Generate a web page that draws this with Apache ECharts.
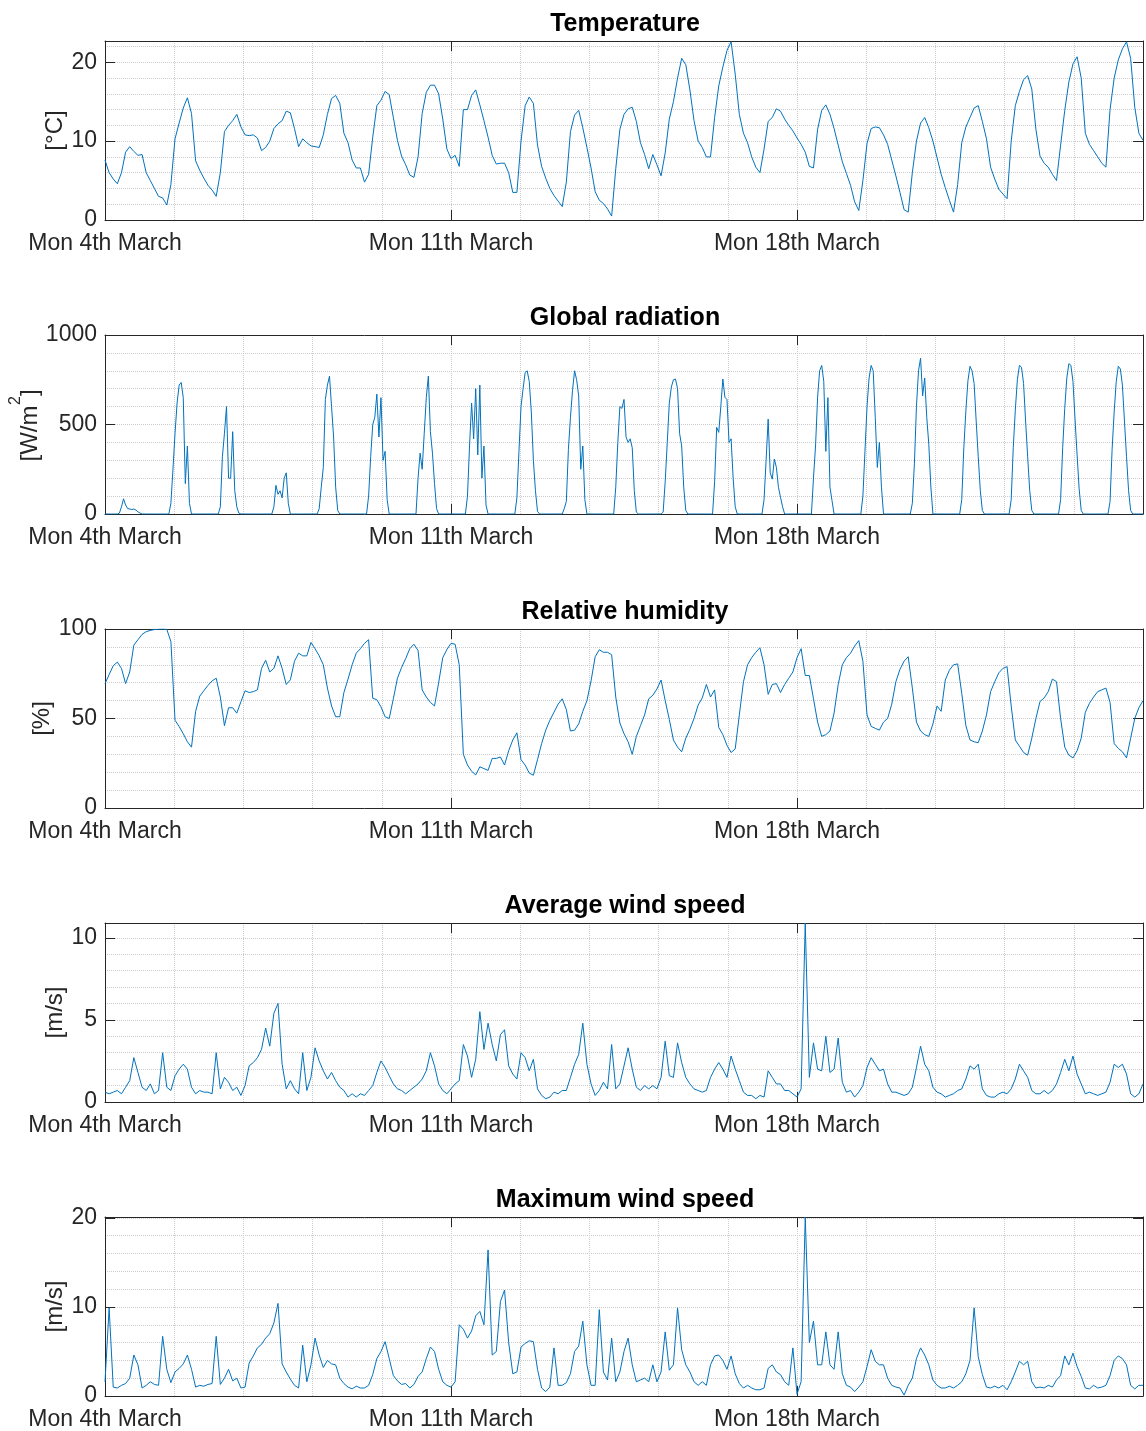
<!DOCTYPE html>
<html>
<head>
<meta charset="utf-8">
<title>Weather station, March</title>
<script src="https://cdn.jsdelivr.net/npm/echarts@6/dist/echarts.min.js"></script>
<style>
  html, body { margin: 0; padding: 0; background: #fff; }
  #main { width: 1146px; height: 1431px; }
  #err { position: absolute; left: 10px; top: 10px; font: 14px monospace; color: #c00; white-space: pre-wrap; width: 1100px; }
</style>
</head>
<body>
<div id="main"></div>
<div id="err"></div>
<script>
// x values are hours since Mon 4th March 00:00
var weekLabels = ['Mon 4th March', 'Mon 11th March', 'Mon 18th March'];
var weekHours = 168;
var titles = ['Temperature', 'Global radiation', 'Relative humidity', 'Average wind speed', 'Maximum wind speed'];
var units = ['[°C]', null, '[%]', '[m/s]', '[m/s]'];   // radiation unit has a superscript, built below
var stepHours = [2, 1, 2, 2, 2];
var yMax = [22.7, 1000, 100, 10.9, 20.1];
var yInterval = [10, 500, 50, 5, 10];

// temperature [°C], one value every 2 h (12 per day)
var temperature = [
  7.6, 6.0, 5.2, 4.6, 6.0, 8.6, 9.3, 8.7, 8.2, 8.3, 6.0, 5.0,
  4.0, 3.0, 2.8, 1.9, 4.5, 10.3, 12.3, 14.2, 15.5, 13.5, 7.5, 6.3,
  5.3, 4.4, 3.8, 3.0, 6.0, 11.2, 12.0, 12.6, 13.4, 11.8, 10.8, 10.7,
  10.8, 10.4, 8.8, 9.2, 10.0, 11.6, 12.2, 12.6, 13.8, 13.6, 11.6, 9.3,
  10.3, 9.8, 9.4, 9.3, 9.2, 10.8, 13.4, 15.4, 15.8, 14.8, 11.0, 9.8,
  7.6, 6.6, 6.6, 4.8, 5.8, 10.5, 14.5, 15.2, 16.3, 15.9, 13.0, 10.1,
  8.1, 7.0, 5.7, 5.4, 8.0, 13.5, 16.2, 17.1, 17.1, 16.0, 12.8, 9.0,
  7.8, 8.2, 6.8, 14.0, 14.0, 15.8, 16.5, 14.6, 12.6, 10.5, 8.2, 7.1,
  7.2, 7.2, 6.0, 3.5, 3.5, 10.0, 14.5, 15.6, 14.8, 9.5, 6.8, 5.3,
  4.0, 3.1, 2.4, 1.7, 4.8, 11.2, 13.3, 13.9, 11.7, 9.2, 6.6, 3.6,
  2.5, 2.1, 1.4, 0.5, 6.5, 11.5, 13.4, 14.1, 14.3, 12.5, 9.8, 8.3,
  6.5, 8.3, 7.0, 5.6, 8.5, 12.8, 15.0, 18.0, 20.5, 19.7, 16.5, 12.6,
  10.0, 9.2, 8.0, 8.0, 13.0, 17.0, 19.4, 21.5, 22.6, 18.5, 13.4, 11.0,
  9.8, 8.0, 6.7, 6.0, 9.0, 12.5, 13.0, 14.1, 13.8, 12.8, 12.0, 11.3,
  10.4, 9.6, 8.6, 6.8, 6.6, 11.5, 13.9, 14.6, 13.4, 11.6, 9.5, 7.4,
  5.9, 4.4, 2.3, 1.2, 5.0, 9.7, 11.6, 11.8, 11.7, 10.8, 9.6, 7.6,
  5.6, 3.5, 1.3, 1.0, 6.0, 10.0, 12.3, 13.0, 11.7, 10.0, 7.9, 5.8,
  4.1, 2.5, 1.0, 4.5, 9.8, 11.8, 13.0, 14.2, 14.5, 12.5, 10.3, 6.7,
  5.2, 3.9, 3.3, 2.7, 10.0, 14.5, 16.3, 17.8, 18.3, 16.6, 11.5, 8.1,
  7.2, 6.7, 5.8, 5.0, 9.5, 13.9, 17.5, 19.8, 20.7, 18.0, 11.0, 9.6,
  8.8, 8.0, 7.2, 6.7, 14.0, 18.0, 20.3, 21.7, 22.6, 20.5, 14.3, 11.0,
  10.1
];

// global radiation [W/m2], one value every hour (24 per day)
var radiation = [
  0, 0, 0, 0, 0, 0, 0, 5, 40, 85, 50, 30, 28, 25, 28, 22, 12, 5, 0, 0, 0, 0, 0, 0,
  0, 0, 0, 0, 0, 0, 0, 0, 60, 250, 450, 620, 720, 735, 650, 170, 380, 60, 0, 0, 0, 0, 0, 0,
  0, 0, 0, 0, 0, 0, 0, 0, 40, 320, 450, 600, 200, 200, 460, 130, 40, 5, 0, 0, 0, 0, 0, 0,
  0, 0, 0, 0, 0, 0, 0, 0, 0, 0, 40, 160, 110, 130, 90, 200, 230, 60, 0, 0, 0, 0, 0, 0,
  0, 0, 0, 0, 0, 0, 0, 0, 30, 150, 260, 640, 720, 770, 600, 430, 150, 20, 0, 0, 0, 0, 0, 0,
  0, 0, 0, 0, 0, 0, 0, 0, 100, 320, 500, 540, 670, 430, 650, 300, 350, 80, 0, 0, 0, 0, 0, 0,
  0, 0, 0, 0, 0, 0, 0, 0, 200, 340, 250, 450, 650, 770, 460, 340, 170, 30, 0, 0, 0, 0, 0, 0,
  0, 0, 0, 0, 0, 0, 0, 0, 100, 380, 620, 420, 700, 330, 720, 200, 380, 50, 0, 0, 0, 0, 0, 0,
  0, 0, 0, 0, 0, 0, 0, 0, 90, 350, 600, 700, 790, 800, 740, 570, 300, 130, 15, 0, 0, 0, 0, 0,
  0, 0, 0, 0, 0, 0, 0, 30, 70, 360, 540, 690, 800, 750, 660, 250, 380, 80, 0, 0, 0, 0, 0, 0,
  0, 0, 0, 0, 0, 0, 0, 0, 150, 400, 600, 590, 640, 430, 400, 420, 370, 130, 10, 0, 0, 0, 0, 0,
  0, 0, 0, 0, 0, 0, 0, 10, 180, 400, 620, 710, 750, 754, 700, 450, 380, 150, 20, 0, 0, 0, 0, 0,
  0, 0, 0, 0, 0, 0, 0, 0, 180, 484, 456, 600, 754, 652, 640, 400, 420, 200, 40, 0, 0, 0, 0, 0,
  0, 0, 0, 0, 0, 0, 0, 0, 80, 300, 530, 230, 195, 307, 260, 149, 93, 40, 0, 0, 0, 0, 0, 0,
  0, 0, 0, 0, 0, 0, 0, 0, 200, 380, 652, 800, 830, 740, 350, 650, 150, 75, 0, 0, 0, 0, 0, 0,
  0, 0, 0, 0, 0, 0, 0, 0, 100, 350, 600, 760, 830, 800, 540, 260, 400, 150, 0, 0, 0, 0, 0, 0,
  0, 0, 0, 0, 0, 0, 0, 0, 60, 280, 600, 800, 870, 660, 760, 540, 390, 150, 0, 0, 0, 0, 0, 0,
  0, 0, 0, 0, 0, 0, 0, 0, 80, 370, 577, 745, 825, 800, 730, 520, 320, 130, 20, 0, 0, 0, 0, 0,
  0, 0, 0, 0, 0, 0, 0, 0, 80, 370, 580, 750, 830, 820, 730, 520, 320, 130, 20, 0, 0, 0, 0, 0,
  0, 0, 0, 0, 0, 0, 0, 0, 80, 370, 590, 760, 840, 830, 740, 530, 330, 140, 20, 0, 0, 0, 0, 0,
  0, 0, 0, 0, 0, 0, 0, 0, 70, 360, 570, 740, 825, 810, 720, 520, 320, 130, 20, 0, 0, 0, 0, 0,
  0
];

// relative humidity [%], every 2 h
var humidity = [
  69.5, 74.5, 79.5, 81.5, 78, 69.5, 76, 91, 94, 97, 98.5, 99.2,
  99.7, 99.9, 100, 99.8, 93, 49, 45.5, 41.5, 37, 34, 54, 62.5,
  65.5, 68.5, 71, 72.5, 62, 46, 56, 56, 53, 59.4, 65.5, 64.5,
  65, 66, 78, 82.5, 76, 78, 85, 78, 69, 71.6, 82, 86.5,
  85, 85, 92.5, 89, 85, 80, 67, 57, 51, 51, 64.5, 72,
  80, 86.5, 89, 92, 94, 61.3, 60.5, 56.5, 51, 50, 61, 72.5,
  78.5, 83.5, 89, 91.5, 88, 66, 62, 59, 57, 70, 84, 88.5,
  92, 91.5, 80, 30, 24, 20.5, 18.5, 23, 22, 21, 27.7, 27.7,
  28.5, 24, 32, 38, 42, 27, 24, 19.5, 18.3, 27, 36, 43.5,
  49, 53.5, 58, 61, 55, 43, 43.5, 47, 54, 60, 71, 84.5,
  88.4, 87, 87, 85.6, 62, 47.5, 41.5, 37, 30, 40, 46, 52,
  61, 63, 66.5, 71.5, 60, 49.5, 38, 34, 31.4, 39, 44, 50,
  57.5, 61.5, 69, 62, 66, 45, 41, 35, 31, 33, 52, 70.5,
  80, 84, 87, 89.5, 80, 63.5, 69, 69.5, 64.5, 69, 72.5, 76,
  84, 89, 74, 74, 61, 48, 40, 41, 43, 53, 69, 80,
  84, 86.5, 90.5, 93.5, 82, 52, 45.6, 44.5, 43.5, 48, 50, 58,
  70.5, 77.5, 82, 84.5, 67, 48, 43, 41, 40, 47, 57, 54,
  71.5, 77, 80, 80.5, 64, 46, 38, 37, 36.5, 43, 52, 65,
  70.5, 75.5, 78, 79, 57, 38, 34.5, 31, 29.5, 39, 50, 59.5,
  61.5, 65, 72, 70.6, 50, 34, 29.5, 28, 32, 39, 53.5, 58.5,
  62, 65, 66, 67, 59, 36, 33.3, 31.4, 28, 39, 50, 56,
  60
];

// average wind speed [m/s], every 2 h
var windAvg = [
  0.6, 0.5, 0.6, 0.7, 0.5, 0.9, 1.3, 2.7, 1.8, 0.9, 0.7, 1.1,
  0.5, 0.7, 3.0, 0.9, 0.7, 1.6, 2.0, 2.3, 2.0, 0.9, 0.5, 0.7,
  0.6, 0.6, 0.5, 3.0, 0.8, 1.5, 1.2, 0.7, 0.9, 0.4, 1.0, 2.2,
  2.4, 2.7, 3.2, 4.5, 3.4, 5.4, 6.0, 2.3, 0.8, 1.3, 0.8, 0.5,
  3.0, 0.7, 1.5, 3.3, 2.5, 1.9, 1.4, 1.8, 1.3, 0.9, 0.7, 0.3,
  0.5, 0.3, 0.5, 0.4, 0.7, 1.0, 1.8, 2.5, 2.1, 1.6, 1.1, 0.8,
  0.7, 0.5, 0.7, 0.9, 1.1, 1.4, 1.9, 3.0, 2.2, 1.1, 0.7, 0.5,
  0.8, 1.1, 1.3, 3.5, 2.8, 1.5, 2.6, 5.5, 3.2, 4.8, 3.5, 2.5,
  4.1, 4.4, 2.2, 1.7, 1.4, 3.0, 2.7, 1.9, 2.6, 0.8, 0.4, 0.2,
  0.3, 0.6, 0.5, 0.7, 0.7, 1.5, 2.3, 2.9, 4.8, 2.3, 1.1, 0.4,
  0.7, 1.2, 0.8, 3.5, 0.8, 1.1, 2.2, 3.3, 2.0, 0.9, 0.7, 1.0,
  0.8, 1.0, 0.8, 1.5, 3.7, 1.6, 1.5, 3.6, 2.4, 1.5, 1.1, 0.8,
  0.7, 0.6, 0.7, 1.5, 2.0, 2.4, 2.0, 1.5, 2.8, 2.0, 1.3, 0.6,
  0.4, 0.4, 0.2, 0.4, 0.3, 1.9, 1.5, 1.1, 1.1, 0.7, 0.7, 0.5,
  0.3, 0.8, 10.9, 1.5, 3.6, 2.0, 1.9, 4.0, 1.8, 2.0, 3.9, 1.2,
  0.6, 0.7, 0.3, 0.6, 1.0, 2.1, 2.7, 2.3, 1.9, 2.0, 1.1, 0.6,
  0.6, 0.5, 0.4, 0.5, 0.9, 2.1, 3.4, 2.3, 1.9, 0.9, 0.6, 0.5,
  0.3, 0.4, 0.5, 0.7, 0.8, 1.4, 2.2, 2.0, 2.3, 0.8, 0.4, 0.3,
  0.3, 0.5, 0.6, 0.5, 0.8, 1.4, 2.3, 1.9, 1.5, 0.7, 0.5, 0.5,
  0.7, 0.5, 0.7, 1.1, 1.8, 2.6, 1.9, 2.8, 1.7, 1.1, 0.5, 0.6,
  0.5, 0.4, 0.5, 0.6, 1.2, 2.3, 2.1, 2.3, 1.7, 0.5, 0.3, 0.5,
  1.1
];

// maximum wind speed [m/s], every 2 h
var windMax = [
  1.6, 9.9, 1.0, 0.9, 1.2, 1.4, 2.0, 4.6, 3.5, 0.9, 1.2, 1.6,
  1.3, 1.2, 6.7, 3.0, 1.5, 2.7, 3.1, 3.6, 4.6, 3.0, 1.0, 1.2,
  1.1, 1.3, 1.4, 6.7, 1.3, 2.0, 3.0, 1.7, 2.0, 0.9, 1.0, 3.7,
  4.5, 5.4, 5.8, 6.5, 7.0, 8.2, 10.4, 3.6, 2.7, 1.9, 1.2, 0.9,
  5.7, 1.6, 3.5, 6.5, 4.6, 3.2, 4.0, 3.6, 3.5, 2.0, 1.4, 1.0,
  0.8, 1.1, 0.9, 0.9, 1.2, 2.4, 4.2, 5.0, 6.1, 4.2, 2.3, 1.7,
  1.3, 1.4, 0.9, 1.3, 2.2, 2.7, 4.2, 5.5, 5.0, 3.0, 1.6, 1.2,
  1.0, 1.6, 8.0, 7.5, 6.5, 7.3, 9.0, 9.5, 8.0, 16.4, 4.6, 5.0,
  10.6, 11.9, 6.0, 2.5, 2.7, 5.5, 5.9, 6.2, 6.1, 3.0, 0.9, 0.5,
  1.0, 5.4, 1.2, 1.2, 1.5, 2.5, 5.0, 5.6, 8.4, 3.5, 1.2, 1.2,
  9.7, 2.7, 1.8, 6.5, 1.6, 2.7, 5.0, 6.5, 3.5, 1.6, 1.8, 2.0,
  1.6, 3.5, 1.6, 2.7, 7.2, 2.9, 3.5, 9.9, 5.2, 3.5, 2.7, 1.6,
  1.2, 1.6, 1.2, 3.5, 4.5, 4.6, 4.0, 3.0, 4.5, 2.5, 1.4, 0.9,
  1.2, 0.9, 0.7, 0.7, 0.9, 3.1, 3.5, 2.7, 2.4, 1.6, 1.2, 5.4,
  0.2, 1.6, 20.1, 6.0, 8.4, 3.5, 3.5, 7.2, 3.5, 3.0, 7.2, 2.5,
  1.2, 1.0, 0.5, 1.0, 1.6, 3.3, 5.2, 3.9, 3.5, 3.5, 2.0, 1.2,
  1.0, 0.9, 0.1, 1.2, 2.0, 4.2, 5.4, 4.6, 3.5, 1.8, 1.2, 0.9,
  0.9, 1.1, 0.9, 1.2, 1.6, 2.5, 4.0, 9.9, 4.4, 2.4, 1.0, 0.9,
  1.1, 0.9, 1.2, 0.7, 1.6, 2.7, 3.9, 3.5, 3.9, 1.6, 0.9, 1.0,
  0.9, 1.2, 1.0, 1.8, 2.3, 4.5, 3.5, 4.8, 3.3, 2.2, 0.9, 0.8,
  1.2, 0.9, 1.0, 1.2, 2.3, 4.0, 4.5, 4.2, 3.5, 1.2, 0.8, 1.2,
  1.2
];

var seriesData = [temperature, radiation, humidity, windAvg, windMax];

var font = '"Liberation Sans", Arial, Helvetica, sans-serif';
var ink = '#262626';
var gridInk = '#cdcdcd';
var lineBlue = '#0072BD';
// screen x where each rotated y label ends (side nearest the axis)
var unitRight = [67, 42, 54, 67, 67];

function frameLine() { return { show: true, onZero: false, lineStyle: { color: ink, width: 1 } }; }
function innerTick() { return { show: true, inside: true, length: 10, lineStyle: { color: ink, width: 1 } }; }
function dotted() { return { color: gridInk, width: 1, type: 'dotted' }; }
function weekLabel(v) {
  var k = Math.round(v / weekHours);
  return (Math.abs(v - k * weekHours) < 1e-6 && k < weekLabels.length) ? weekLabels[k] : '';
}

try {
  var chart = echarts.init(document.getElementById('main'));
  var grids = [], xAxes = [], yAxes = [], series = [], graphics = [];

  for (var i = 0; i < 5; i++) {
    var panelTop = 41 + i * 294;
    grids.push({ left: 105, top: panelTop, width: 1040, height: 179 });

    xAxes.push({
      type: 'value', gridIndex: i, position: 'bottom', min: 0, max: 504, interval: weekHours,
      axisLine: frameLine(), axisTick: innerTick(),
      axisLabel: { color: ink, fontFamily: font, fontSize: 23, margin: 12, formatter: weekLabel },
      splitLine: { show: true, lineStyle: dotted() },
      minorTick: { show: false, splitNumber: 5 },
      minorSplitLine: { show: true, lineStyle: dotted() }
    });
    xAxes.push({
      type: 'value', gridIndex: i, position: 'top', min: 0, max: 504, interval: weekHours,
      axisLine: frameLine(), axisTick: innerTick(), axisLabel: { show: false }, splitLine: { show: false }
    });

    yAxes.push({
      type: 'value', gridIndex: i, position: 'left', min: 0, max: yMax[i], interval: yInterval[i],
      axisLine: frameLine(), axisTick: innerTick(),
      axisLabel: { color: ink, fontFamily: font, fontSize: 23, margin: 8,
        formatter: function (v) { return String(v); } },
      splitLine: { show: true, lineStyle: dotted() },
      minorTick: { show: false, splitNumber: 5 },
      minorSplitLine: { show: true, lineStyle: dotted() }
    });
    yAxes.push({
      type: 'value', gridIndex: i, position: 'right', min: 0, max: yMax[i], interval: yInterval[i],
      axisLine: frameLine(), axisTick: innerTick(), axisLabel: { show: false }, splitLine: { show: false }
    });

    var pts = [];
    for (var j = 0; j < seriesData[i].length; j++) pts.push([j * stepHours[i], seriesData[i][j]]);
    series.push({
      name: titles[i], type: 'line', xAxisIndex: 2 * i, yAxisIndex: 2 * i,
      showSymbol: false, symbol: 'none',
      lineStyle: { color: lineBlue, width: 1 },
      data: pts
    });

    graphics.push({
      type: 'text', x: 625, y: 12 + i * 294,
      style: { text: titles[i], fill: '#000', font: 'bold 25px ' + font, align: 'center', verticalAlign: 'top' }
    });

    // y label, rotated to read bottom to top
    var kids;
    if (units[i]) {
      kids = [{ type: 'text', x: 0, y: 0, style: { text: units[i], fill: ink, font: '24px ' + font, align: 'center', verticalAlign: 'bottom' } }];
    } else {
      kids = [
        { type: 'text', x: -37, y: 0, style: { text: '[W/m', fill: ink, font: '24px ' + font, align: 'left', verticalAlign: 'bottom' } },
        { type: 'text', x: 19.5, y: -34, style: { text: '2', fill: ink, font: '16px ' + font, align: 'left', verticalAlign: 'top' } },
        { type: 'text', x: 28.5, y: 0, style: { text: ']', fill: ink, font: '24px ' + font, align: 'left', verticalAlign: 'bottom' } }
      ];
    }
    graphics.push({ type: 'group', x: unitRight[i], y: panelTop + 89.5, rotation: Math.PI / 2, children: kids });
  }

  chart.setOption({
    backgroundColor: '#ffffff',
    animation: false,
    grid: grids,
    xAxis: xAxes,
    yAxis: yAxes,
    series: series,
    graphic: graphics
  });
} catch (e) {
  document.getElementById('err').textContent = String(e) + '\n' + (e.stack || '').slice(0, 1500);
}
</script>
</body>
</html>
